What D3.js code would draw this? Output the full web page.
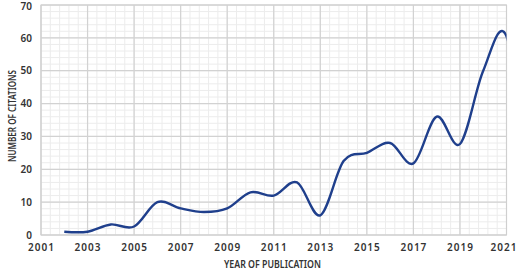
<!DOCTYPE html>
<html>
<head>
<meta charset="utf-8">
<script src="https://cdn.jsdelivr.net/npm/d3@7"></script>
<style>
  html, body { margin: 0; padding: 0; background: #fff; }
  svg { display: block; }
  text { font-family: "Noto Sans", "Open Sans", sans-serif; fill: #333; }
</style>
</head>
<body>
<svg id="chart" width="518" height="271"></svg>
<script>
// ---- data ----
const years = [2002, 2003, 2004, 2005, 2006, 2007, 2008, 2009, 2010, 2011, 2012,
               2013, 2014, 2015, 2016, 2017, 2018, 2019, 2020, 2021, 2022];
const citations = [1, 1, 3.2, 2.6, 10, 8.1, 7, 8.1, 13, 12, 16,
                   6, 22.5, 25, 28, 21.8, 36, 27.7, 50, 60.5, 16];
const xTicks = [2001, 2003, 2005, 2007, 2009, 2011, 2013, 2015, 2017, 2019, 2021];
const yTicks = [0, 10, 20, 30, 40, 50, 60, 70];
const xTitle = "YEAR OF PUBLICATION";
const yTitle = "NUMBER OF CITATIONS";

const svg = d3.select("#chart");
const L = 41, R = 506.5, T = 5, B = 235;

const x = d3.scaleLinear().domain([2001, 2021]).range([L, R]);
const y = d3.scaleLinear().domain([0, 70]).range([B, T]);

// minor grid
const minorX = d3.range(2001, 2021.0001, 0.4);
const minorY = d3.range(0, 70.0001, 2);
const grid = svg.append("g");
grid.selectAll("line.mx").data(minorX).join("line")
  .attr("x1", d => x(d)).attr("x2", d => x(d))
  .attr("y1", T).attr("y2", B)
  .attr("stroke", "#ececec").attr("stroke-width", 1);
grid.selectAll("line.my").data(minorY).join("line")
  .attr("x1", L).attr("x2", R)
  .attr("y1", d => y(d)).attr("y2", d => y(d))
  .attr("stroke", "#ececec").attr("stroke-width", 1);
// major grid
grid.selectAll("line.Mx").data(xTicks).join("line")
  .attr("x1", d => x(d)).attr("x2", d => x(d))
  .attr("y1", T).attr("y2", B)
  .attr("stroke", "#d2d2d2").attr("stroke-width", 1.2);
grid.selectAll("line.My").data(yTicks).join("line")
  .attr("x1", L).attr("x2", R)
  .attr("y1", d => y(d)).attr("y2", d => y(d))
  .attr("stroke", "#d2d2d2").attr("stroke-width", 1.2);

// frame
svg.append("rect").attr("x", L).attr("y", T).attr("width", R - L).attr("height", B - T)
  .attr("fill", "none").attr("stroke", "#cfcfcf").attr("stroke-width", 1);

// axes (labels only)
const xAxis = d3.axisBottom(x).tickValues(xTicks).tickFormat(d3.format("d")).tickSize(0).tickPadding(9);
const gx = svg.append("g").attr("transform", `translate(0,${B})`).call(xAxis);
gx.select(".domain").remove();
gx.selectAll("text").style("font-size", "10px").style("font-weight", "600")
  .style("letter-spacing", "1px").attr("fill", "#333");
// keep the last label inside the picture
gx.selectAll(".tick").filter(d => d === 2021).select("text")
  .attr("text-anchor", "end").attr("x", 518 - x(2021) - 1);

const yAxis = d3.axisLeft(y).tickValues(yTicks).tickSize(0).tickPadding(9);
const gy = svg.append("g").attr("transform", `translate(${L},0)`).call(yAxis);
gy.select(".domain").remove();
gy.selectAll("text").style("font-size", "10px").style("font-weight", "600").attr("fill", "#333");
gy.selectAll(".tick").filter(d => d === 70).select("text").attr("dy", "0.45em");

// line, clipped to the plot
svg.append("clipPath").attr("id", "clip").append("rect")
  .attr("x", L).attr("y", 0).attr("width", R - L).attr("height", B + 5);
const line = d3.line()
  .x((d, i) => x(years[i]))
  .y(d => y(d))
  .curve(d3.curveCardinal.tension(0));
svg.append("path").datum(citations)
  .attr("clip-path", "url(#clip)")
  .attr("d", line)
  .attr("fill", "none").attr("stroke", "#1f3f8c").attr("stroke-width", 2.4)
  .attr("stroke-linejoin", "round");

// titles
svg.append("text").attr("x", 272.5).attr("y", 268).attr("text-anchor", "middle")
  .attr("textLength", 97).attr("lengthAdjust", "spacingAndGlyphs")
  .style("font-size", "10px").style("font-weight", "600").text(xTitle);
svg.append("text").attr("transform", "translate(16,116) rotate(-90)").attr("text-anchor", "middle")
  .attr("textLength", 92).attr("lengthAdjust", "spacingAndGlyphs")
  .style("font-size", "10px").style("font-weight", "600").text(yTitle);
</script>
</body>
</html>
